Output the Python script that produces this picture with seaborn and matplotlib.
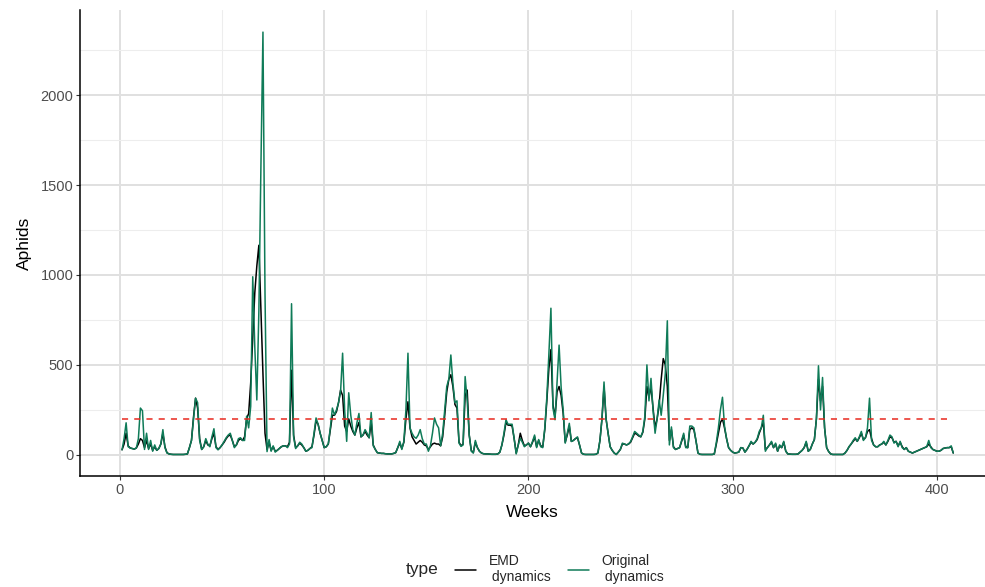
import numpy as np
import pandas as pd
import matplotlib
matplotlib.use("Agg")
import matplotlib.pyplot as plt
import seaborn as sns
from matplotlib.lines import Line2D

# ---------------------------------------------------------------------------
# data (one value per week, weeks 1..408)
# ---------------------------------------------------------------------------
original = [
    28, 90, 178, 45, 38, 35, 32, 38, 90, 260,
    245, 30, 120, 30, 80, 20, 55, 25, 35, 60,
    140, 40, 10, 5, 3, 2, 2, 2, 2, 2,
    2, 3, 5, 40, 80, 200, 315, 290, 80, 30,
    45, 90, 60, 45, 100, 145, 40, 28, 40, 55,
    75, 95, 110, 120, 80, 40, 55, 90, 95, 80,
    80, 215, 150, 270, 990, 600, 305, 800, 1600, 2350,
    900, 18, 85, 20, 50, 15, 25, 35, 45, 50,
    50, 40, 60, 840, 100, 35, 50, 70, 60, 40,
    20, 25, 35, 40, 120, 205, 170, 120, 80, 40,
    45, 62, 150, 260, 222, 250, 290, 350, 565, 250,
    75, 345, 220, 140, 110, 178, 230, 100, 110, 140,
    120, 95, 235, 50, 30, 12, 10, 8, 8, 6,
    5, 5, 5, 8, 12, 40, 75, 30, 75, 250,
    565, 150, 120, 100, 92, 110, 140, 90, 60, 60,
    20, 50, 120, 205, 170, 150, 50, 120, 250, 380,
    420, 555, 400, 290, 300, 65, 47, 55, 435, 300,
    110, 20, 10, 80, 40, 20, 10, 6, 5, 5,
    4, 3, 3, 3, 5, 15, 55, 120, 195, 170,
    170, 170, 90, 5, 55, 92, 70, 45, 55, 65,
    45, 75, 110, 40, 85, 45, 40, 150, 320, 560,
    815, 260, 195, 400, 610, 375, 250, 65, 120, 175,
    74, 80, 90, 100, 55, 10, 3, 2, 2, 2,
    2, 2, 3, 10, 80, 200, 405, 200, 120, 45,
    25, 10, 2, 15, 30, 65, 60, 55, 60, 74,
    100, 130, 120, 110, 100, 130, 215, 500, 300, 425,
    250, 120, 200, 305, 220, 330, 450, 745, 55, 155,
    40, 30, 35, 40, 80, 120, 40, 40, 160, 160,
    150, 80, 10, 3, 2, 2, 2, 2, 2, 2,
    5, 70, 150, 250, 320, 160, 90, 40, 25, 15,
    10, 12, 15, 40, 38, 15, 30, 50, 75, 60,
    70, 90, 130, 150, 220, 20, 40, 55, 75, 40,
    65, 20, 55, 40, 75, 20, 5, 4, 3, 3,
    3, 5, 15, 25, 40, 75, 20, 30, 60, 85,
    200, 495, 250, 430, 150, 40, 18, 5, 2, 2,
    2, 2, 2, 2, 10, 25, 46, 60, 80, 95,
    75, 100, 130, 80, 95, 150, 315, 80, 55, 45,
    45, 55, 60, 75, 55, 80, 110, 100, 65, 75,
    45, 75, 40, 30, 40, 20, 15, 10, 15, 20,
    25, 30, 35, 40, 45, 80, 40, 30, 25, 20,
    20, 25, 35, 38, 40, 40, 50, 10,
]

emd = [
    28, 60, 120, 50, 38, 35, 32, 38, 60, 90,
    80, 40, 80, 35, 60, 25, 45, 25, 35, 60,
    120, 45, 12, 5, 3, 2, 2, 2, 2, 2,
    2, 3, 5, 40, 80, 210, 315, 260, 90, 30,
    45, 80, 55, 50, 90, 120, 45, 30, 40, 55,
    70, 90, 105, 110, 80, 45, 55, 80, 90, 80,
    100, 200, 230, 400, 650, 900, 1050, 1165, 800, 450,
    120, 30, 70, 25, 45, 20, 25, 35, 45, 50,
    50, 45, 70, 470, 110, 40, 50, 65, 55, 40,
    20, 25, 35, 45, 110, 190, 170, 120, 80, 40,
    45, 60, 140, 220, 220, 240, 290, 360, 330, 160,
    130, 200, 160, 130, 110, 150, 180, 100, 110, 130,
    110, 95, 180, 55, 30, 12, 10, 8, 8, 6,
    5, 5, 5, 8, 12, 40, 65, 35, 70, 200,
    295, 150, 100, 80, 60, 70, 80, 70, 55, 50,
    30, 45, 60, 65, 60, 60, 50, 100, 220, 350,
    420, 445, 380, 280, 260, 70, 50, 60, 330, 360,
    110, 25, 12, 70, 40, 20, 10, 6, 5, 5,
    4, 3, 3, 3, 5, 15, 55, 110, 180, 165,
    165, 160, 90, 10, 55, 120, 80, 50, 55, 65,
    45, 70, 100, 45, 80, 50, 45, 140, 300, 480,
    585, 280, 210, 350, 380, 330, 230, 70, 110, 160,
    75, 80, 90, 95, 55, 10, 3, 2, 2, 2,
    2, 2, 3, 10, 80, 200, 380, 200, 120, 45,
    25, 10, 2, 15, 30, 60, 60, 55, 60, 70,
    95, 120, 115, 105, 100, 125, 200, 380, 320, 380,
    260, 150, 200, 280, 420, 535, 500, 380, 80, 140,
    45, 30, 35, 40, 75, 110, 45, 40, 140, 150,
    140, 80, 10, 3, 2, 2, 2, 2, 2, 2,
    5, 60, 120, 180, 200, 150, 90, 40, 25, 15,
    10, 12, 15, 40, 38, 15, 30, 50, 70, 60,
    70, 85, 120, 150, 180, 30, 40, 55, 70, 40,
    60, 20, 50, 40, 70, 20, 5, 4, 3, 3,
    3, 5, 15, 25, 40, 70, 20, 30, 60, 85,
    200, 420, 300, 380, 150, 40, 18, 5, 2, 2,
    2, 2, 2, 2, 10, 25, 45, 60, 75, 90,
    75, 95, 120, 85, 95, 130, 140, 90, 55, 45,
    45, 55, 60, 70, 55, 75, 100, 95, 70, 75,
    50, 70, 45, 30, 40, 20, 15, 10, 15, 20,
    25, 30, 35, 40, 45, 60, 45, 30, 25, 20,
    20, 25, 35, 38, 40, 40, 45, 10,
]

weeks = np.arange(1, len(original) + 1)
threshold = 200
type_labels = ["EMD\n dynamics", "Original\n dynamics"]
colors = {"EMD\n dynamics": "black", "Original\n dynamics": "#0F7B58"}

df = pd.concat([
    pd.DataFrame({"Weeks": weeks, "Aphids": emd, "type": type_labels[0]}),
    pd.DataFrame({"Weeks": weeks, "Aphids": original, "type": type_labels[1]}),
])

# ---------------------------------------------------------------------------
# style
# ---------------------------------------------------------------------------
sns.set_theme(style="white")
plt.rcParams["font.family"] = ["Liberation Sans", "DejaVu Sans"]

fig = plt.figure(figsize=(9.85, 5.87), dpi=100)
ax = fig.add_axes([0.0817, 0.189, 0.918, 0.794])

sns.lineplot(data=df, x="Weeks", y="Aphids", hue="type", hue_order=type_labels,
             palette=colors, linewidth=1.1, ax=ax, legend=False)

ax.hlines(threshold, weeks[0], weeks[-1], colors="#E8281E", linestyles=(0, (4, 4)),
          linewidth=1.1, zorder=3)

ax.set_xlim(-19.35, 423.4)
ax.set_ylim(-118, 2473)
ax.set_xticks([0, 100, 200, 300, 400])
ax.set_xticks([50, 150, 250, 350], minor=True)
ax.set_yticks([0, 500, 1000, 1500, 2000])
ax.set_yticks([250, 750, 1250, 1750, 2250], minor=True)
ax.grid(which="major", color="#E0E0E0", linewidth=1.4)
ax.grid(which="minor", color="#EDEDED", linewidth=0.8)
ax.set_axisbelow(True)

for side in ["top", "right"]:
    ax.spines[side].set_visible(False)
for side in ["left", "bottom"]:
    ax.spines[side].set_color("black")
    ax.spines[side].set_linewidth(1.1)

ax.tick_params(axis="both", which="major", length=3, width=0.8, color="#333333",
               labelsize=10.5, labelcolor="#4D4D4D", pad=2, left=True, bottom=True)
ax.tick_params(axis="both", which="minor", length=0)

ax.set_xlabel("Weeks", fontsize=12.5, color="black", labelpad=6)
ax.set_ylabel("Aphids", fontsize=12.5, color="black", labelpad=6)

# legend at the bottom, title on the left
handles = [Line2D([], [], color=colors[t], linewidth=1.1) for t in type_labels]
fig.text(0.429, 0.03, "type", fontsize=12.5, ha="center", va="center")
fig.legend(handles, type_labels, loc="center", bbox_to_anchor=(0.568, 0.03), ncol=2,
           frameon=False, fontsize=10, handlelength=1.5, handletextpad=0.9,
           columnspacing=1.2, labelspacing=0.2)

fig.savefig("out.png", dpi=100)
